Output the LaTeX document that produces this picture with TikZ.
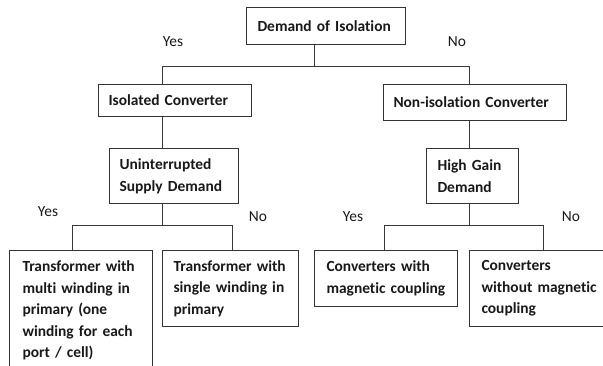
\documentclass[tikz,border=0pt]{standalone}
\usepackage{fontspec}
\setmainfont[Ligatures={NoCommon}, WordSpace=0.7]{Carlito}
\begin{document}
\begin{tikzpicture}[x=1bp,y=-1bp,
  every node/.style={text=black!90},
  box/.style={draw=black!80, line width=1bp, anchor=north west, align=left,
    inner ysep=0pt, font=\bfseries\fontsize{15.5}{21.7}\selectfont,
    execute at begin node={\hyphenpenalty=10000\relax}},
  lbl/.style={font=\fontsize{15.5}{18}\selectfont, inner sep=0pt},
  link/.style={draw=black!78, line width=1bp}]
  \useasboundingbox (0,0) rectangle (603,365);
  \clip (0,0) rectangle (603,365);
  \fill[white] (0,0) rectangle (603,365);

  % decision boxes
  \node[box, inner xsep=11bp, text width=137bp, minimum height=37bp] (top) at (246,7) {Demand of Isolation};
  \node[box, inner xsep=10bp, text width=133bp, minimum height=32bp] (iso) at (98,84) {Isolated Converter};
  \node[box, inner xsep=10bp, text width=163bp, minimum height=36bp] (noniso) at (383,84) {Non-isolation Converter};
  \node[box, inner xsep=10bp, text width=109bp, minimum height=55bp] (ups) at (109,148) {Uninterrupted\\Supply Demand};
  \node[box, inner xsep=11bp, text width=70bp, minimum height=55bp] (hgd) at (426,148) {High Gain\\Demand};

  % outcome boxes
  \node[box, inner xsep=13bp, text width=117bp, minimum height=120bp] (multi) at (9,250) {Transformer with\\multi winding in\\primary (one\\winding for each\\port / cell)};
  \node[box, inner xsep=11bp, text width=114bp, minimum height=76bp] (single) at (162,250) {Transformer with\\single winding in\\primary};
  \node[box, inner xsep=12bp, text width=119bp, minimum height=56bp] (withmag) at (314,250) {Converters with\\magnetic coupling};
  \node[box, inner xsep=12bp, text width=117bp, minimum height=76bp] (womag) at (469,250) {Converters\\without magnetic\\coupling};

  % junction points of the connectors
  \coordinate (j0) at (314,66);
  \coordinate (jL) at (162,66);
  \coordinate (jR) at (469,66);
  \coordinate (k0) at (162,225);
  \coordinate (kL) at (72,225);
  \coordinate (kR) at (232,225);
  \coordinate (m0) at (469,225);
  \coordinate (mL) at (384,225);
  \coordinate (mR) at (543,225);

  % connectors
  \draw[link] (top.south -| j0) -- (j0);
  \draw[link] (iso.north -| jL) -- (jL) -- (jR) -- (noniso.north -| jR);
  \draw[link] (iso.south -| jL) -- (ups.north -| jL);
  \draw[link] (noniso.south -| jR) -- (hgd.north -| jR);
  \draw[link] (ups.south -| k0) -- (k0);
  \draw[link] (multi.north -| kL) -- (kL) -- (kR) -- (single.north -| kR);
  \draw[link] (hgd.south -| m0) -- (m0);
  \draw[link] (withmag.north -| mL) -- (mL) -- (mR) -- (womag.north -| mR);

  % branch labels
  \node[lbl] (y1) at (173,42) {Yes};
  \node[lbl] (n1) at (457,42) {No};
  \node[lbl] (y2) at (48,212) {Yes};
  \node[lbl] (n2) at (258,217) {No};
  \node[lbl] (y3) at (353,217) {Yes};
  \node[lbl] (n3) at (571,217) {No};
\end{tikzpicture}
\end{document}
